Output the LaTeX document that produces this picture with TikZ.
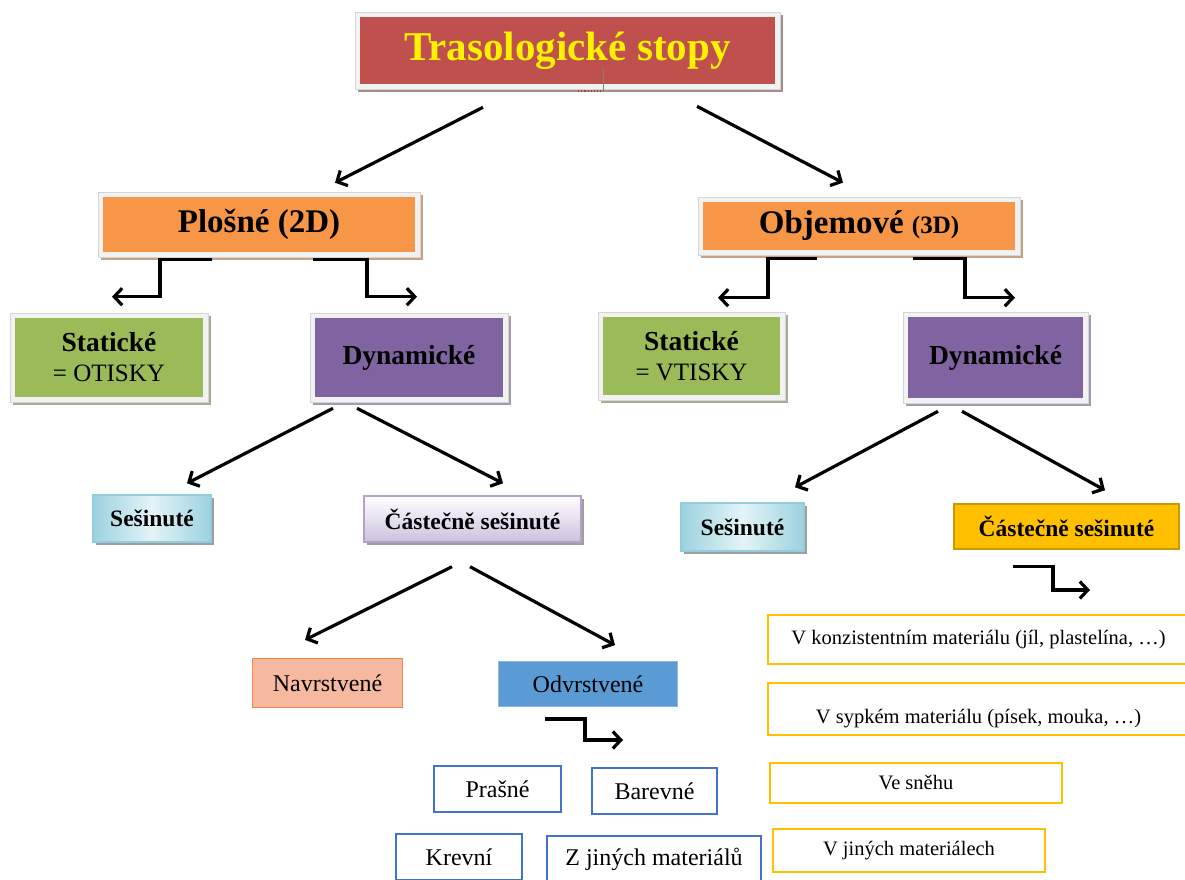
\documentclass[tikz,border=0pt]{standalone}
\usepackage{fontspec}
\setmainfont{Liberation Serif}
\usetikzlibrary{arrows.meta,shadows,calc}

\definecolor{titlered}{HTML}{C0504D}
\definecolor{titleshadow}{HTML}{A88C8C}
\definecolor{orangefill}{HTML}{F79646}
\definecolor{orangeshadow}{HTML}{C8A283}
\definecolor{greenfill}{HTML}{9BBB59}
\definecolor{greenshadow}{HTML}{A5AF90}
\definecolor{purplefill}{HTML}{8064A2}
\definecolor{purpleshadow}{HTML}{A49AB2}
\definecolor{framegray}{HTML}{F2F2F2}
\definecolor{cyanedge}{HTML}{9CD2DF}
\definecolor{cyanlight}{HTML}{E4F3F7}
\definecolor{cyanborder}{HTML}{92CDDC}
\definecolor{lilacbottom}{HTML}{CDC0DE}
\definecolor{lilacborder}{HTML}{B3A2C7}
\definecolor{gold}{HTML}{FFC000}
\definecolor{goldborder}{HTML}{C99A06}
\definecolor{salmon}{HTML}{F6B9A0}
\definecolor{salmonborder}{HTML}{F0884A}
\definecolor{bluefill}{HTML}{5B9BD5}
\definecolor{blueborder}{HTML}{4472C4}

\tikzset{
  panel/.style 2 args={rectangle, inner sep=0pt, fill=framegray,
    draw=framegray!88!black, line width=0.6pt,
    drop shadow={shadow xshift=3pt, shadow yshift=-3pt, fill=#2, opacity=1},
    path picture={\fill[#1]
      ([shift={(5pt,-5pt)}]path picture bounding box.north west) rectangle
      ([shift={(-5pt,5pt)}]path picture bounding box.south east);}},
  softbox/.style={rectangle, inner sep=0pt, line width=1.4pt,
    drop shadow={shadow xshift=3pt, shadow yshift=-3pt, fill=black!38, opacity=1}},
  cyanbox/.style={softbox, draw=cyanborder, left color=cyanedge, right color=cyanedge, middle color=cyanlight},
  lilacbox/.style={softbox, draw=lilacborder, top color=white, bottom color=lilacbottom},
  plainbox/.style={rectangle, inner sep=0pt, font=\fontsize{24}{28}\selectfont},
  bluebox/.style={plainbox, draw=blueborder, line width=2pt, fill=white},
  goldbox/.style={rectangle, inner sep=0pt, draw=gold, line width=2.5pt, fill=white,
    font=\fontsize{20.5}{24}\selectfont},
  arr/.style={line width=3.2pt, -{Straight Barb[length=8pt,width=17pt]}},
  bigfont/.style={font=\fontsize{33}{38}\selectfont\bfseries},
  midfont/.style={font=\fontsize{27.5}{30}\selectfont\bfseries},
  smallbold/.style={font=\fontsize{23.5}{27}\selectfont\bfseries},
  twoline/.style={align=center, font=\fontsize{25}{30}\selectfont},
}

\begin{document}
\begin{tikzpicture}[x=1pt,y=-1pt]
\useasboundingbox (0,0) rectangle (1185,880);
\clip (0,0) rectangle (1185,880);

% top level
\node[panel={titlered}{titleshadow}, minimum width=425pt, minimum height=77pt,
  font=\fontsize{41}{46}\selectfont\bfseries, text=yellow] (title) at (567.5,50.5) {Trasologické stopy};
\draw[titlered!80!black, dotted, line width=1.2pt] (578,91) -- (601,91);
\draw[gray, line width=0.4pt] (603,68) -- (603,92);

% second level
\node[panel={orangefill}{orangeshadow}, minimum width=322pt, minimum height=65pt, bigfont]
  (plosne) at (259,224.5) {Plošné (2D)};
\node[panel={orangefill}{orangeshadow}, minimum width=322pt, minimum height=58pt, bigfont]
  (objem) at (859,226) {Objemové {\fontsize{25}{28}\selectfont(3D)}};

% third level
\node[panel={greenfill}{greenshadow}, minimum width=198pt, minimum height=89pt, twoline]
  (statL) at (109,357.5) {{\fontsize{27.5}{30}\selectfont\bfseries Statické}\\{= OTISKY}};
\node[panel={purplefill}{purpleshadow}, minimum width=198pt, minimum height=89pt, midfont]
  (dynL) at (409,357.5) {Dynamické};
\node[panel={greenfill}{greenshadow}, minimum width=187pt, minimum height=88pt, twoline]
  (statR) at (691.5,356) {{\fontsize{27.5}{30}\selectfont\bfseries Statické}\\{= VTISKY}};
\node[panel={purplefill}{purpleshadow}, minimum width=185pt, minimum height=91pt, midfont]
  (dynR) at (995.5,357.5) {Dynamické};

% fourth level
\node[cyanbox, minimum width=118pt, minimum height=47pt, smallbold] (sesL) at (152,518.5) {Sešinuté};
\node[lilacbox, minimum width=217pt, minimum height=46pt, smallbold] (castL) at (472.5,519) {Částečně sešinuté};
\node[cyanbox, minimum width=123pt, minimum height=48pt, smallbold] (sesR) at (742.5,527) {Sešinuté};
\node[rectangle, inner sep=0pt, fill=gold, draw=goldborder, line width=1.5pt,
  minimum width=225pt, minimum height=45pt, smallbold] (castR) at (1066.5,526.5) {Částečně sešinuté};

% fifth level, left
\node[plainbox, fill=salmon, draw=salmonborder, line width=1.2pt,
  minimum width=150pt, minimum height=49pt] (navr) at (327.5,683) {Navrstvené};
\node[plainbox, fill=bluefill, draw=bluefill!70!white, line width=0.8pt,
  minimum width=179pt, minimum height=45pt] (odvr) at (588,684) {Odvrstvené};

\node[bluebox, minimum width=127pt, minimum height=46pt] (prasne) at (497.5,789) {Prašné};
\node[bluebox, minimum width=125pt, minimum height=46pt] (barevne) at (654.5,791) {Barevné};
\node[bluebox, minimum width=126pt, minimum height=46pt] (krevni) at (459,857) {Krevní};
\node[bluebox, minimum width=214pt, minimum height=46pt] (zjinych) at (654,859) {Z jiných materiálů};

% fifth level, right
\node[goldbox, minimum width=421pt, text height=29pt, text depth=20pt] (konz) at (978.5,639.5)
  {V konzistentním materiálu (jíl, plastelína, …)};
\node[goldbox, minimum width=421pt, text height=40pt, text depth=12pt] (sypk) at (978.5,709)
  {V sypkém materiálu (písek, mouka, …)};
\node[goldbox, minimum width=292pt, minimum height=40pt] (snih) at (916,783) {Ve sněhu};
\node[goldbox, minimum width=272pt, minimum height=43pt] (jine) at (909,850.5) {V jiných materiálech};

% free ends of the two last elbow arrows
\coordinate (odvrTip) at (623,740);
\coordinate (castTip) at (1090,590);

% straight arrows
\draw[arr] ([xshift=-84.5pt,yshift=-18pt]title.south) -- ([xshift=76pt,yshift=9pt]plosne.north);
\draw[arr] ([xshift=129.5pt,yshift=-17pt]title.south) -- ([xshift=-16pt,yshift=14pt]objem.north);
\draw[arr] ([xshift=-76pt,yshift=-6pt]dynL.south) -- ([xshift=35pt,yshift=11pt]sesL.north);
\draw[arr] ([xshift=-52pt,yshift=-6pt]dynL.south) -- ([xshift=30.5pt,yshift=12pt]castL.north);
\draw[arr] ([xshift=-57.5pt,yshift=-8pt]dynR.south) -- ([xshift=52.5pt,yshift=15pt]sesR.north);
\draw[arr] ([xshift=-33.5pt,yshift=-8pt]dynR.south) -- ([xshift=38.5pt,yshift=13pt]castR.north);
\draw[arr] ([xshift=-20.5pt,yshift=-24pt]castL.south) -- ([xshift=-22.5pt,yshift=18pt]navr.north);
\draw[arr] ([xshift=-2.5pt,yshift=-24pt]castL.south) -- ([xshift=27pt,yshift=16pt]odvr.north);

% elbow arrows
\draw[arr] ([xshift=-47pt,yshift=-2pt]plosne.south) -- ++(-52,0) |- ([xshift=3pt,yshift=16pt]statL.north);
\draw[arr] ([xshift=54pt,yshift=-2pt]plosne.south) -- ++(54,0) |- ([xshift=8pt,yshift=16pt]dynL.north);
\draw[arr] ([xshift=-42pt,yshift=-3pt]objem.south) -- ++(-49,0) |- ([xshift=26.5pt,yshift=14pt]statR.north);
\draw[arr] ([xshift=54pt,yshift=-3pt]objem.south) -- ++(52,0) |- ([xshift=19.5pt,yshift=14pt]dynR.north);
\draw[arr] ([xshift=-43pt,yshift=-12pt]odvr.south) -- ++(40,0) |- (odvrTip);
\draw[arr] ([xshift=-53.5pt,yshift=-17pt]castR.south) -- ++(40,0) |- (castTip);
\end{tikzpicture}
\end{document}
